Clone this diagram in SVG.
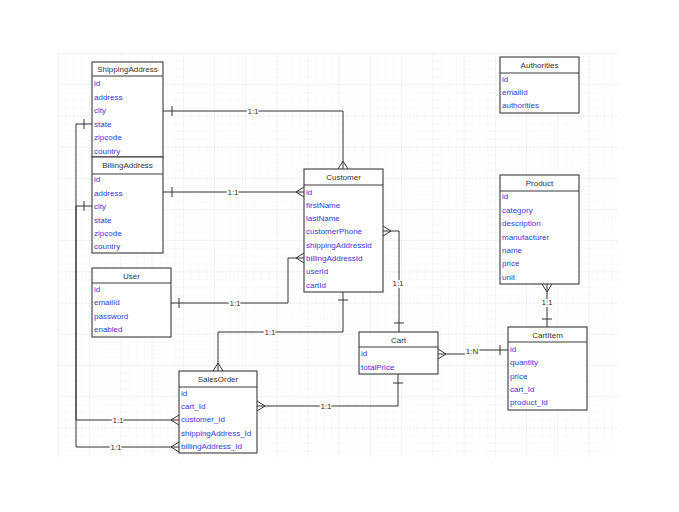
<svg xmlns="http://www.w3.org/2000/svg" width="679" height="512" viewBox="0 0 679 512">
<style>
.box{fill:#fff;stroke:#3a3a3a;stroke-width:1.1}
.sep{stroke:#3a3a3a;stroke-width:1.1}
.hd{font-family:"Liberation Sans",Arial,sans-serif;font-size:8px;fill:#333;text-anchor:middle}
.f{font-family:"Liberation Sans",Arial,sans-serif;font-size:8px;fill:#3838e6}
.ln{fill:none;stroke:#333;stroke-width:1}
.lb{font-family:"Liberation Sans",Arial,sans-serif;font-size:8px;fill:#333;text-anchor:middle;stroke:#fff;stroke-width:3;paint-order:stroke}
</style>
<defs>
<pattern id="g" x="58" y="53" width="7.8" height="7.8" patternUnits="userSpaceOnUse">
<path d="M0,0 H7.8 M0,0 V7.8" fill="none" stroke="#eeeeee" stroke-width="0.6"/>
</pattern>
<pattern id="G" x="58" y="53" width="31.2" height="31.2" patternUnits="userSpaceOnUse">
<path d="M0,0 H31.2 M0,0 V31.2" fill="none" stroke="#e2e2e2" stroke-width="0.6"/>
</pattern>
</defs>
<rect width="679" height="512" fill="#fff"/>
<rect x="58" y="53" width="560" height="404" fill="url(#g)"/>
<rect x="58" y="53" width="560" height="404" fill="url(#G)"/>

<g id="connectors">
<path class="ln" d="M163,111 H343 V169 M172,106 V116 M343,161 L338,169 M343,161 L348,169"/>
<text class="lb" x="253" y="114">1:1</text>
<path class="ln" d="M163,192 H304 M172,187 V197 M296,192 L304,187 M296,192 L304,197"/>
<text class="lb" x="233" y="195">1:1</text>
<path class="ln" d="M92,124 H76 V420 H179 M84,119 V129 M171,420 L179,415 M171,420 L179,425"/>
<text class="lb" x="118" y="423">1:1</text>
<path class="ln" d="M92,206 H76 V447 H179 M84,201 V211 M171,447 L179,442 M171,447 L179,452"/>
<text class="lb" x="116" y="450">1:1</text>
<path class="ln" d="M171,303 H288 V258 H304 M179,298 V308 M296,258 L304,253 M296,258 L304,263"/>
<text class="lb" x="235" y="306">1:1</text>
<path class="ln" d="M343,292 V332 H218 V371 M338,300 H348 M218,363 L213,371 M218,363 L223,371"/>
<text class="lb" x="270" y="335">1:1</text>
<path class="ln" d="M383,231 H399 V332 M391,231 L383,226 M391,231 L383,236 M394,323 H404"/>
<text class="lb" x="398" y="286">1:1</text>
<path class="ln" d="M438,354 H470 V350 H508 M446,354 L438,349 M446,354 L438,359 M500,345 V355"/>
<text class="lb" x="472" y="354">1:N</text>
<path class="ln" d="M547,284 V327 M547,292 L542,284 M547,292 L552,284 M542,319 H552"/>
<text class="lb" x="547" y="305">1:1</text>
<path class="ln" d="M398,374 V406 H257 M393,383 H403 M265,406 L257,401 M265,406 L257,411"/>
<text class="lb" x="326" y="409">1:1</text>
</g>

<g id="ShippingAddress">
<rect class="box" x="92" y="62" width="71" height="95"/>
<line class="sep" x1="92" y1="76" x2="163" y2="76"/>
<text class="hd" x="127.5" y="72">ShippingAddress</text>
<text class="f" x="94" y="86">id</text>
<text class="f" x="94" y="100">address</text>
<text class="f" x="94" y="113">city</text>
<text class="f" x="94" y="127">state</text>
<text class="f" x="94" y="140">zipcode</text>
<text class="f" x="94" y="154">country</text>
</g>

<g id="BillingAddress">
<rect class="box" x="92" y="157" width="71" height="96"/>
<line class="sep" x1="92" y1="174" x2="163" y2="174"/>
<text class="hd" x="127.5" y="168">BillingAddress</text>
<text class="f" x="94" y="182">id</text>
<text class="f" x="94" y="196">address</text>
<text class="f" x="94" y="209">city</text>
<text class="f" x="94" y="223">state</text>
<text class="f" x="94" y="236">zipcode</text>
<text class="f" x="94" y="249">country</text>
</g>

<g id="User">
<rect class="box" x="92" y="268" width="79" height="69"/>
<line class="sep" x1="92" y1="283" x2="171" y2="283"/>
<text class="hd" x="131.5" y="278.5">User</text>
<text class="f" x="94" y="292">id</text>
<text class="f" x="94" y="305">emailId</text>
<text class="f" x="94" y="319">password</text>
<text class="f" x="94" y="332">enabled</text>
</g>

<g id="Customer">
<rect class="box" x="304" y="169" width="79" height="123"/>
<line class="sep" x1="304" y1="185" x2="383" y2="185"/>
<text class="hd" x="343.5" y="180">Customer</text>
<text class="f" x="306" y="195">id</text>
<text class="f" x="306" y="208">firstName</text>
<text class="f" x="306" y="221">lastName</text>
<text class="f" x="306" y="234">customerPhone</text>
<text class="f" x="306" y="248">shippingAddressId</text>
<text class="f" x="306" y="261">billingAddressId</text>
<text class="f" x="306" y="274">userId</text>
<text class="f" x="306" y="288">cartId</text>
</g>

<g id="Authorities">
<rect class="box" x="500" y="57" width="79" height="56"/>
<line class="sep" x1="500" y1="73" x2="579" y2="73"/>
<text class="hd" x="539.5" y="68">Authorities</text>
<text class="f" x="502" y="82">id</text>
<text class="f" x="502" y="95">emailId</text>
<text class="f" x="502" y="108">authorities</text>
</g>

<g id="Product">
<rect class="box" x="500" y="175" width="79" height="109"/>
<line class="sep" x1="500" y1="191" x2="579" y2="191"/>
<text class="hd" x="539.5" y="186">Product</text>
<text class="f" x="502" y="199">id</text>
<text class="f" x="502" y="213">category</text>
<text class="f" x="502" y="226">description</text>
<text class="f" x="502" y="240">manufacturer</text>
<text class="f" x="502" y="253">name</text>
<text class="f" x="502" y="266">price</text>
<text class="f" x="502" y="280">unit</text>
</g>

<g id="Cart">
<rect class="box" x="359" y="332" width="79" height="42"/>
<line class="sep" x1="359" y1="347" x2="438" y2="347"/>
<text class="hd" x="398.5" y="342.5">Cart</text>
<text class="f" x="361" y="356">id</text>
<text class="f" x="361" y="370">totalPrice</text>
</g>

<g id="CartItem">
<rect class="box" x="508" y="327" width="79" height="83"/>
<line class="sep" x1="508" y1="342" x2="587" y2="342"/>
<text class="hd" x="547.5" y="337.5">CartItem</text>
<text class="f" x="510" y="352">id</text>
<text class="f" x="510" y="365">quantity</text>
<text class="f" x="510" y="379">price</text>
<text class="f" x="510" y="392">cart_Id</text>
<text class="f" x="510" y="405">product_Id</text>
</g>

<g id="SalesOrder">
<rect class="box" x="179" y="371" width="78" height="82"/>
<line class="sep" x1="179" y1="387" x2="257" y2="387"/>
<text class="hd" x="218" y="382">SalesOrder</text>
<text class="f" x="181" y="396">id</text>
<text class="f" x="181" y="409">cart_Id</text>
<text class="f" x="181" y="422">customer_Id</text>
<text class="f" x="181" y="436">shippingAddress_Id</text>
<text class="f" x="181" y="449">billingAddress_Id</text>
</g>
</svg>
